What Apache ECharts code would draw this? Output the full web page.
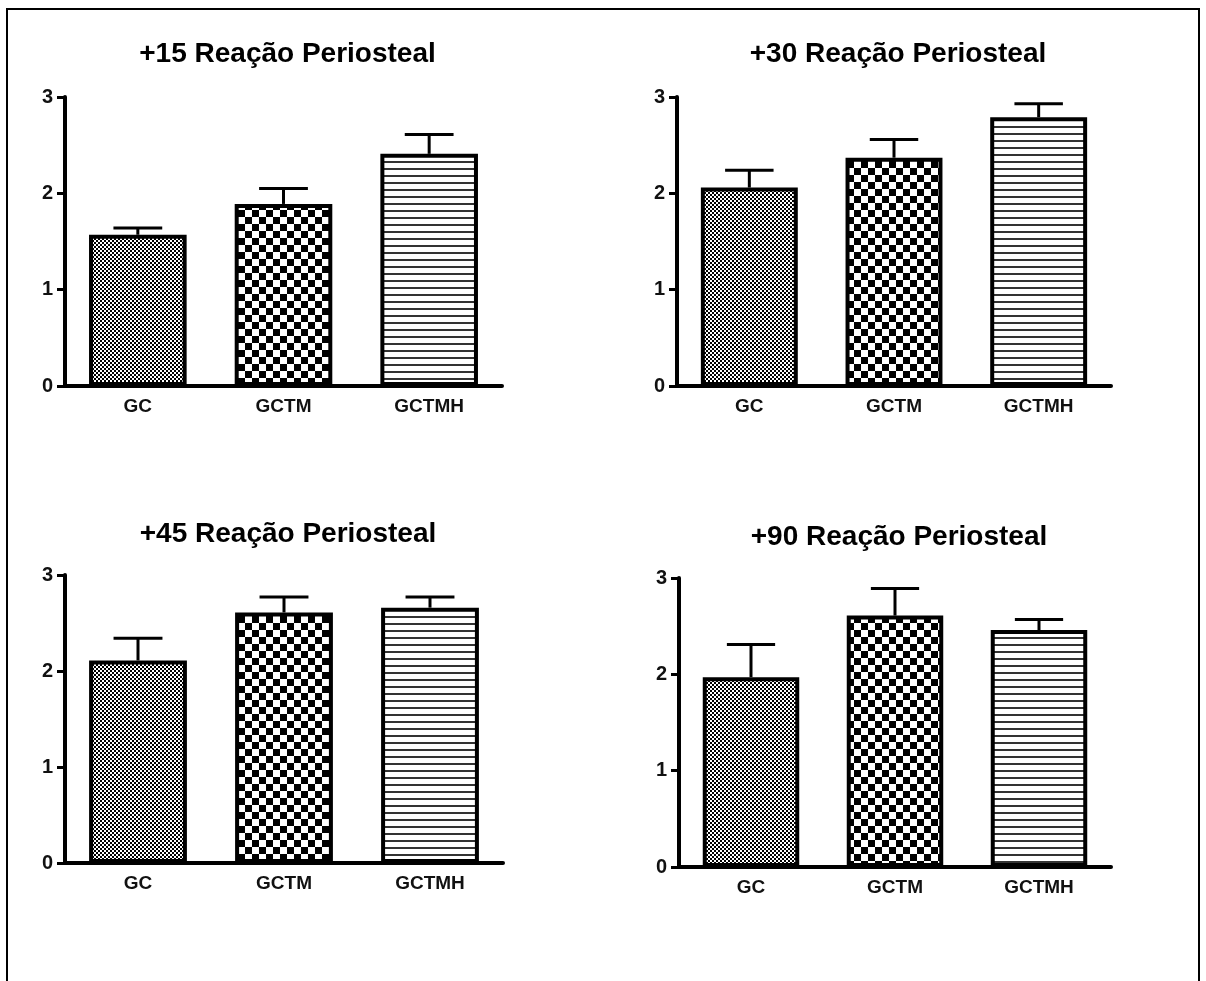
<!DOCTYPE html>
<html><head><meta charset="utf-8">
<script src="https://cdn.jsdelivr.net/npm/echarts@6/dist/echarts.min.js"></script>
<style>html,body{margin:0;padding:0;background:#fff}#c{width:1206px;height:981px}</style>
</head><body><div id="c"></div>
<script>
// ---- data ----
const categories = ['GC', 'GCTM', 'GCTMH'];
const titles = ['+15 Reação Periosteal', '+30 Reação Periosteal', '+45 Reação Periosteal', '+90 Reação Periosteal'];
const mean15 = [1.57, 1.89, 2.41];
const sem15  = [0.07, 0.16, 0.20];
const mean30 = [2.06, 2.37, 2.79];
const sem30  = [0.18, 0.19, 0.14];
const mean45 = [2.11, 2.61, 2.66];
const sem45  = [0.23, 0.16, 0.11];
const mean90 = [1.97, 2.61, 2.46];
const sem90  = [0.34, 0.28, 0.11];
const yMin = 0, yMax = 3, yStep = 1;

// ---- patterns ----
function mk(w, h, draw) { const c = document.createElement('canvas'); c.width = w; c.height = h; const g = c.getContext('2d'); g.fillStyle = '#fff'; g.fillRect(0, 0, w, h); draw(g); return c; }
const fineChecker = mk(4, 4, g => { g.fillStyle = '#000'; g.fillRect(0, 0, 2, 2); g.fillRect(2, 2, 2, 2); });
const coarseChecker = mk(14, 14, g => { g.fillStyle = '#000'; g.fillRect(0, 0, 7, 7); g.fillRect(7, 7, 7, 7); });
const hStripes = mk(4, 7, g => { g.fillStyle = '#333'; g.fillRect(0, 0, 4, 2); });
const patterns = [fineChecker, coarseChecker, hStripes];

const means = [mean15, mean30, mean45, mean90];
const sems = [sem15, sem30, sem45, sem90];
const grids = [
  { left: 65, top: 97, width: 437, height: 289 },
  { left: 677, top: 97, width: 434, height: 289 },
  { left: 65, top: 575, width: 438, height: 288 },
  { left: 679, top: 578, width: 432, height: 289 }
];
const titleY = [35, 35, 515, 518];

const FONT = 'Liberation Sans, Arial, sans-serif';
const option = {
  backgroundColor: '#fff',
  animation: false,
  title: titles.map((t, i) => ({
    text: t, left: grids[i].left + grids[i].width / 2 - 1, top: titleY[i], textAlign: 'center',
    textStyle: { fontFamily: FONT, fontWeight: 'bold', fontSize: 28, color: '#000' }
  })),
  grid: grids.map(g => Object.assign({ containLabel: false }, g)),
  xAxis: grids.map((g, i) => ({
    type: 'category', gridIndex: i, data: categories,
    axisLine: { lineStyle: { color: '#000', width: 4 } },
    axisTick: { alignWithLabel: true, length: 8, lineStyle: { color: '#000', width: 3 } },
    axisLabel: { fontFamily: FONT, fontWeight: 'bold', fontSize: 19, color: '#111', margin: 11 }
  })),
  yAxis: grids.map((g, i) => ({
    type: 'value', gridIndex: i, min: yMin, max: yMax, interval: yStep,
    splitLine: { show: false },
    axisLine: { show: true, lineStyle: { color: '#000', width: 4 } },
    axisTick: { show: true, length: 8, lineStyle: { color: '#000', width: 3 } },
    axisLabel: { fontFamily: FONT, fontWeight: 'bold', fontSize: 20, color: '#111', margin: 12 }
  })),
  series: []
};
means.forEach((m, i) => {
  option.series.push({
    type: 'custom', xAxisIndex: i, yAxisIndex: i, z: 1,
    data: m.map((v, k) => [k, v, sems[i][k]]),
    renderItem: function (params, api) {
      const x = api.value(0), v = api.value(1), e = api.value(2);
      const base = api.coord([x, v]);
      const top = api.coord([x, v + e]);
      const half = api.size([1, 0])[0] * 0.67 * 0.25;
      return { type: 'group', children: [
        { type: 'line', shape: { x1: base[0], y1: base[1], x2: top[0], y2: top[1] }, style: { stroke: '#000', lineWidth: 3 } },
        { type: 'line', shape: { x1: top[0] - half, y1: top[1], x2: top[0] + half, y2: top[1] }, style: { stroke: '#000', lineWidth: 3 } }
      ] };
    }
  });
  option.series.push({
    type: 'bar', xAxisIndex: i, yAxisIndex: i, z: 2, barWidth: '67%',
    data: m.map((v, k) => ({ value: v, itemStyle: { color: { image: patterns[k], repeat: 'repeat' } } })),
    itemStyle: { borderColor: '#000', borderWidth: 4 }
  });
});
option.graphic = [{
  type: 'rect', shape: { x: 7, y: 9, width: 1192, height: 1010 },
  style: { fill: 'none', stroke: '#000', lineWidth: 2 }, silent: true
}];
const chart = echarts.init(document.getElementById('c'), null, { renderer: 'canvas' });
chart.setOption(option);
</script></body></html>
